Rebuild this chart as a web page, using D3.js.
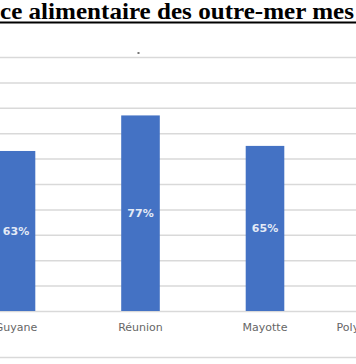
<!DOCTYPE html>
<html>
<head>
<meta charset="utf-8">
<script src="https://cdn.jsdelivr.net/npm/d3@7/dist/d3.min.js"></script>
<style>
  html, body { margin: 0; padding: 0; background: #fff; overflow: hidden; }
  svg { display: block; }
</style>
</head>
<body>
<svg id="chart" width="356" height="364"></svg>
<script>
// ---- data ----
const titleText = "ce alimentaire des outre-mer mes";
const categories = ["Guyane", "Réunion", "Mayotte", "Polynésie française"];
const values = [0.63, 0.77, 0.65, null];   // last bar lies outside the visible crop
const valueLabels = ["63%", "77%", "65%", ""];
const yTicks = [0, 0.1, 0.2, 0.3, 0.4, 0.5, 0.6, 0.7, 0.8, 0.9, 1.0];

const W = 356, H = 364;
const svg = d3.select("#chart");

// title (cropped), bold serif with underline
svg.append("text")
  .attr("x", 0).attr("y", 18.5)
  .attr("font-family", "'Liberation Serif', 'Times New Roman', serif")
  .attr("font-weight", "bold")
  .attr("font-size", 23)
  .attr("textLength", 354)
  .attr("lengthAdjust", "spacingAndGlyphs")
  .attr("fill", "#000")
  .text(titleText);
svg.append("line")
  .attr("x1", 0).attr("x2", W)
  .attr("y1", 22.5).attr("y2", 22.5)
  .attr("stroke", "#000").attr("stroke-width", 2);

// scales
const padding = 0.69;
const step = 124.5;
const firstCenter = 16;
const xStart = firstCenter - step * (1 + padding) / 2;
const x = d3.scaleBand()
  .domain(categories)
  .range([xStart, xStart + step * (categories.length + padding)])
  .padding(padding);

const y = d3.scaleLinear().domain([0, 1]).range([311, 57]);

// gridlines
const grid = svg.append("g")
  .call(d3.axisLeft(y).tickValues(yTicks).tickSize(-W).tickFormat(""));
grid.select(".domain").remove();
grid.selectAll(".tick line")
  .attr("stroke", "#d9d9d9").attr("stroke-width", 1.5);

// bars
const data = categories.map((c, i) => ({ c, v: values[i], l: valueLabels[i] }))
  .filter(d => d.v !== null);

svg.append("g").selectAll("rect")
  .data(data).join("rect")
  .attr("x", d => x(d.c))
  .attr("width", x.bandwidth())
  .attr("y", d => y(d.v))
  .attr("height", d => y(0) - y(d.v))
  .attr("fill", "#4472c4");

// value labels (centred in bars)
svg.append("g").selectAll("text")
  .data(data).join("text")
  .attr("x", d => x(d.c) + x.bandwidth() / 2)
  .attr("y", d => (y(d.v) + y(0)) / 2)
  .attr("dy", "0.35em")
  .attr("text-anchor", "middle")
  .attr("font-family", "'DejaVu Sans', sans-serif")
  .attr("font-weight", "bold")
  .attr("font-size", 11)
  .attr("fill", "#e3eaf6")
  .text(d => d.l);

// category axis
const xAxis = svg.append("g")
  .attr("transform", `translate(0,${y(0)})`)
  .call(d3.axisBottom(x).tickSize(0).tickPadding(12));
xAxis.select(".domain").remove();
xAxis.selectAll("text")
  .attr("font-family", "'DejaVu Sans', sans-serif")
  .attr("font-size", 11)
  .attr("fill", "#666");

// chart frame bottom edge
svg.append("line")
  .attr("x1", 0).attr("x2", W)
  .attr("y1", 357.5).attr("y2", 357.5)
  .attr("stroke", "#d9d9d9").attr("stroke-width", 1.5);

// small mark above the plot (as in the reference)
svg.append("rect")
  .attr("x", 137.5).attr("y", 52).attr("width", 2).attr("height", 2)
  .attr("fill", "#777");
</script>
</body>
</html>
